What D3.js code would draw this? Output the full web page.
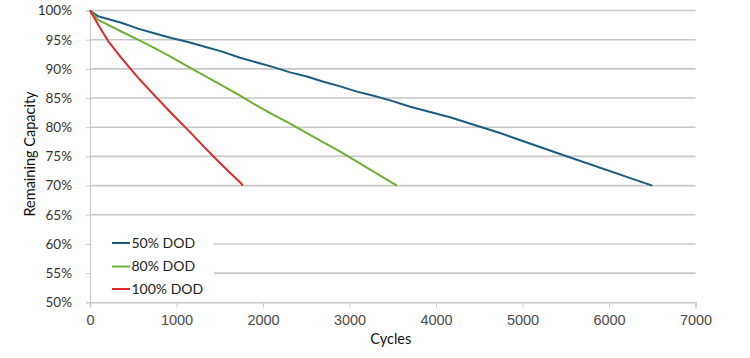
<!DOCTYPE html>
<html><head><meta charset="utf-8">
<script src="https://cdn.jsdelivr.net/npm/d3@7"></script>
<style>
body{margin:0;background:#fff;}
svg{display:block;}
</style></head>
<body><svg id="chart" width="750" height="358"></svg>
<script>
const yTicks = [0.50,0.55,0.60,0.65,0.70,0.75,0.80,0.85,0.90,0.95,1.00];
const xTicks = [0,1000,2000,3000,4000,5000,6000,7000];
const seriesNames = ["50% DOD","80% DOD","100% DOD"];
const seriesColors = ["#1d5b80","#72ad35","#e0282a"];
const dod50 = [[0,100],[93,99.0],[362,97.9],[555,96.9],[742,96.1],[941,95.3],[1134,94.6],[1327,93.8],[1520,93.0],[1735,91.9],[1929,91.1],[2121,90.3],[2314,89.4],[2507,88.7],[2699,87.8],[2893,87.0],[3086,86.1],[3278,85.4],[3471,84.6],[3702,83.5],[4162,81.7],[4740,79.0],[5434,75.4],[6500,70]];
const dod80 = [[0,100],[93,98.4],[362,96.4],[555,95.0],[742,93.6],[941,92.0],[1134,90.4],[1327,88.8],[1520,87.2],[1735,85.4],[1929,83.7],[2121,82.1],[2314,80.6],[2507,79.0],[2699,77.4],[2893,75.8],[3086,74.1],[3278,72.4],[3548,70]];
const dod100 = [[0,100],[93,97.6],[208,94.8],[362,91.9],[555,88.5],[742,85.5],[941,82.4],[1134,79.5],[1327,76.5],[1520,73.6],[1751,70.3],[1765,70]];
const seriesData = [dod50, dod80, dod100];

const svg = d3.select("#chart");
const x = d3.scaleLinear().domain([0,7000]).range([90, 695.5]);
const y = d3.scaleLinear().domain([0.5,1.0]).range([302.3, 10.5]);

// gridlines
svg.append("g").selectAll("line").data(yTicks.slice(1)).join("line")
  .attr("x1", x(0)).attr("x2", x(7000))
  .attr("y1", d=>y(d)).attr("y2", d=>y(d))
  .attr("stroke","#c8c8c8").attr("stroke-width",1.6);

// y axis
const yAxis = d3.axisLeft(y).tickValues(yTicks).tickFormat(d3.format(".0%")).tickSize(4).tickPadding(14);
const gy = svg.append("g").attr("transform",`translate(${x(0)},0)`).call(yAxis);
gy.select(".domain").attr("stroke","#c8c8c8").attr("stroke-width",1);
gy.selectAll(".tick line").attr("stroke","#c8c8c8");
gy.selectAll("text").attr("font-family","Lato, 'Open Sans', sans-serif").attr("font-size",13.5).attr("fill","#333");

// x axis
const xAxis = d3.axisBottom(x).tickValues(xTicks).tickFormat(d3.format("d")).tickSize(5).tickPadding(7);
const gx = svg.append("g").attr("transform",`translate(0,${y(0.5)})`).call(xAxis);
gx.select(".domain").attr("stroke","#c8c8c8").attr("stroke-width",1.6);
gx.selectAll(".tick line").attr("stroke","#c8c8c8");
gx.selectAll("text").attr("font-family","'Liberation Sans', Arial, sans-serif").attr("font-size",14.5).attr("fill","#4a4a4a");

// legend background
const lg = svg.append("g");
lg.append("rect").attr("x", x(0)+1).attr("y", 227).attr("width", 123).attr("height", 72).attr("fill","#fff");

// lines
const line = d3.line().x(d=>x(d[0])).y(d=>y(d[1]/100));
svg.append("g").selectAll("path").data(seriesData).join("path")
  .attr("d", line).attr("fill","none")
  .attr("stroke",(d,i)=>seriesColors[i]).attr("stroke-width",2).attr("stroke-linejoin","round");

// legend
const rowsY = [243, 266.5, 289];
seriesNames.forEach((n,i)=>{
  lg.append("line").attr("x1",112).attr("x2",130).attr("y1",rowsY[i]).attr("y2",rowsY[i])
    .attr("stroke",seriesColors[i]).attr("stroke-width",2);
  lg.append("text").attr("x",131.5).attr("y",rowsY[i]).attr("dy","0.35em")
    .attr("font-family","Lato, 'Open Sans', sans-serif").attr("font-size",14).attr("fill","#222").text(n);
});

// axis titles
svg.append("text").attr("x", (x(0)+x(7000))/2 - 2).attr("y", 344)
  .attr("text-anchor","middle").attr("font-family","Lato, 'Open Sans', sans-serif").attr("font-size",14.5).attr("fill","#111").text("Cycles");
svg.append("text").attr("transform",`translate(35,154) rotate(-90)`)
  .attr("text-anchor","middle").attr("font-family","Lato, 'Open Sans', sans-serif").attr("font-size",14.5).attr("fill","#111").text("Remaining Capacity");
</script></body></html>
